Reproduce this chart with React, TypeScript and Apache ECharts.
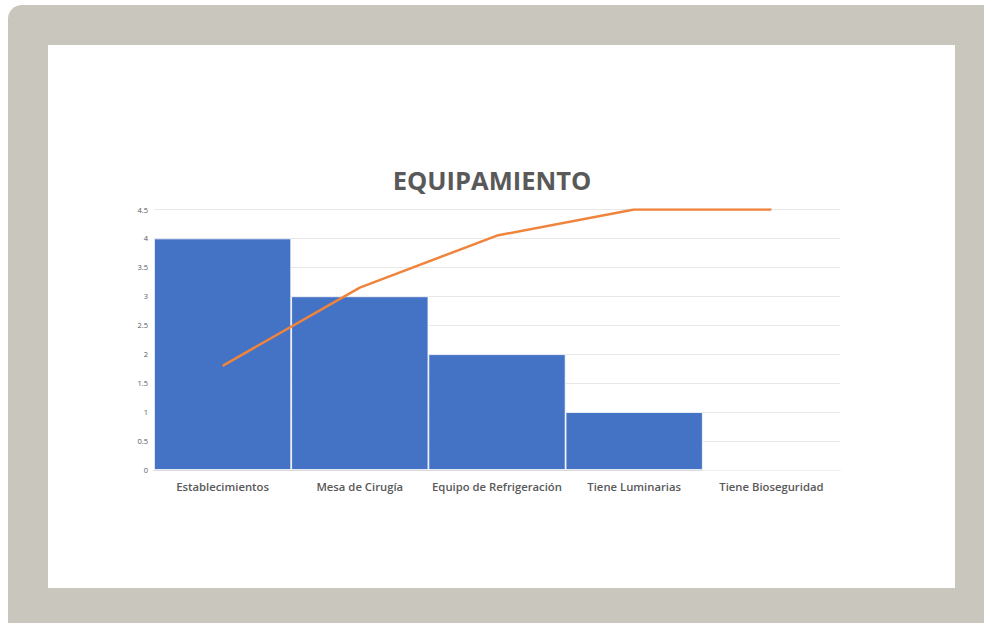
import React, { useEffect, useRef } from "react";
import * as echarts from "echarts";

const categories = [
  "Establecimientos",
  "Mesa de Cirugía",
  "Equipo de Refrigeración",
  "Tiene Luminarias",
  "Tiene Bioseguridad",
];
const counts = [4, 3, 2, 1, 0];
const cumulativePct = [40, 70, 90, 100, 100];
const yTicks = [0, 0.5, 1, 1.5, 2, 2.5, 3, 3.5, 4, 4.5];

export default function App() {
  const ref = useRef<HTMLDivElement>(null);
  useEffect(() => {
    if (!ref.current) return;
    const chart = echarts.init(ref.current, null, { renderer: "svg" });
    chart.setOption({
      animation: false,
      title: {
        text: "EQUIPAMIENTO",
        left: "center",
        top: 162,
        textStyle: {
          fontFamily: "Open Sans",
          fontWeight: "bold",
          fontSize: 25.5,
          color: "#595959",
        },
      },
      grid: { left: 154, right: 144, top: 209.5, bottom: 153 },
      xAxis: {
        type: "category",
        data: categories,
        axisLine: { lineStyle: { color: "#d9d9d9" } },
        axisTick: { show: false },
        axisLabel: {
          fontFamily: "Open Sans",
          fontWeight: 600,
          fontSize: 11.3,
          color: "#595959",
          margin: 11,
          interval: 0,
        },
      },
      yAxis: [
        {
          type: "value",
          min: 0,
          max: 4.5,
          interval: 0.5,
          axisLine: { show: false },
          axisTick: { show: false },
          splitLine: { lineStyle: { color: "#e8e8e8" } },
          axisLabel: {
            fontFamily: "Open Sans",
            fontSize: 7.5,
            color: "#595959",
            margin: 6,
            formatter: (v: number) => (yTicks.includes(v) ? String(v) : ""),
          },
        },
        {
          type: "value",
          min: 0,
          max: 100,
          show: false,
        },
      ],
      series: [
        {
          type: "bar",
          data: counts,
          barWidth: "100%",
          itemStyle: { color: "#4472C4", borderColor: "#ffffff", borderWidth: 0.8 },
        },
        {
          type: "line",
          yAxisIndex: 1,
          data: cumulativePct,
          showSymbol: false,
          symbol: "none",
          lineStyle: { color: "#F0843C", width: 2.5 },
        },
      ],
    });
    return () => chart.dispose();
  }, []);

  return (
    <div style={{ position: "fixed", left: 0, top: 0, width: 984, height: 623, overflow: "hidden", background: "#ffffff" }}>
      <div
        style={{
          position: "absolute",
          left: 8,
          top: 5,
          width: 1020,
          height: 660,
          borderRadius: 14,
          background: "#c9c6bd",
        }}
      />
      <div
        style={{
          position: "absolute",
          left: 48,
          top: 45,
          width: 907,
          height: 543,
          background: "#ffffff",
        }}
      />
      <div ref={ref} style={{ position: "absolute", left: 0, top: 0, width: 984, height: 623 }} />
    </div>
  );
}
